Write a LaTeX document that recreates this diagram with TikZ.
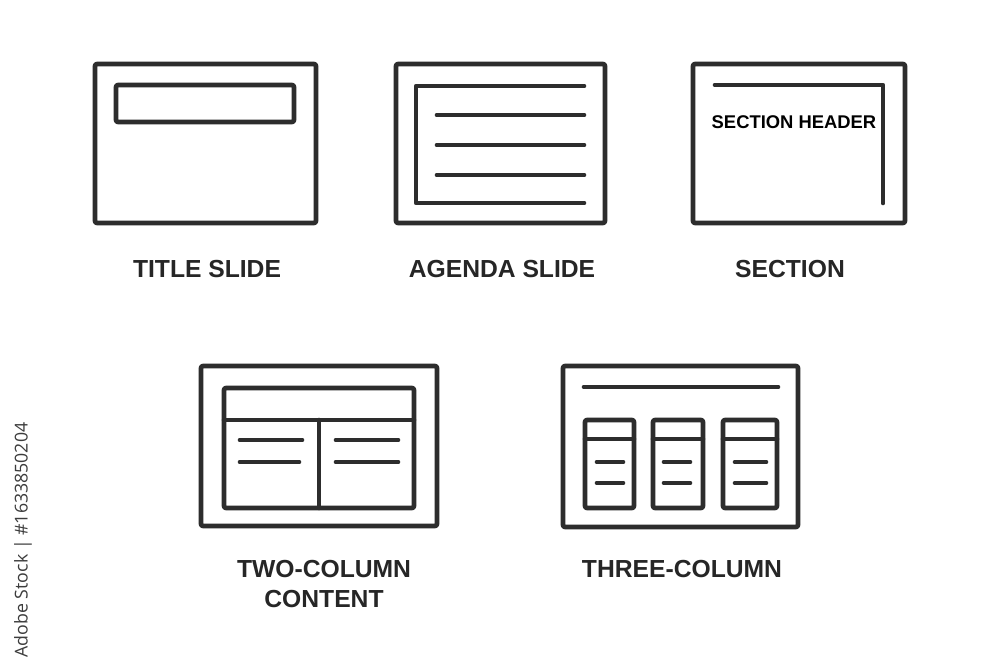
\documentclass[tikz,border=0pt]{standalone}
\usepackage{fontspec}
\setmainfont{Liberation Sans}
\newfontfamily\sidefont{Open Sans}
\definecolor{iconcol}{RGB}{45,45,45}
\definecolor{labcol}{RGB}{38,38,38}
\definecolor{sidecol}{RGB}{60,60,60}
\begin{document}
\begin{tikzpicture}[x=0.75pt,y=-0.75pt,
  frame/.style={draw=iconcol,line width=3.5pt,rounded corners=1.5pt,line join=round},
  bar/.style={draw=iconcol,line width=3.5pt,line cap=round,line join=round},
  lab/.style={text=labcol,font=\fontsize{18.5pt}{22pt}\selectfont\bfseries,anchor=base,inner sep=0pt}]
\useasboundingbox[fill=white] (0,0) rectangle (1000,667);

% ---- Title slide
\draw[frame] (95,64) rectangle (316,223);
\draw[frame] (116,85) rectangle (294,122);
\node[lab] (t1) at (207,277) {TITLE SLIDE};

% ---- Agenda slide
\draw[frame] (396,64) rectangle (605,223);
\draw[bar] (584,86) -- (416,86) -- (416,203) -- (584,203);
\foreach \yy in {115,145,175} \draw[bar] (437,\yy) -- (584,\yy);
\node[lab] (t2) at (502,277) {AGENDA SLIDE};

% ---- Section
\draw[frame] (693,64) rectangle (905,223);
\draw[bar] (715,85) -- (883,85) -- (883,203);
\node[inner sep=0pt,anchor=base,font=\fontsize{13.8pt}{16pt}\selectfont\bfseries] (sh) at (794,128) {SECTION HEADER};
\node[lab] (t3) at (790,277) {SECTION};

% ---- Two-column content
\draw[frame] (201,366) rectangle (437,526);
\draw[frame] (224,388) rectangle (414,508);
\draw[bar] (224,420) -- (414,420);
\draw[bar] (319,420) -- (319,508);
\draw[bar] (240,440) -- (302,440);
\draw[bar] (240,462) -- (299,462);
\draw[bar] (336,440) -- (398,440);
\draw[bar] (336,462) -- (398,462);
\node[lab] (t4) at (324,577) {TWO-COLUMN};
\node[lab] (t5) at (324,607) {CONTENT};

% ---- Three-column
\draw[frame] (563,366) rectangle (798,527);
\draw[bar] (584,387) -- (778,387);
\foreach \xa/\xb/\la/\lb in {585/634/597/623, 653/703/664/690, 723/777/735/766}{
  \draw[frame] (\xa,420) rectangle (\xb,508);
  \draw[bar] (\xa,439) -- (\xb,439);
  \draw[bar] (\la,462) -- (\lb,462);
  \draw[bar] (\la,483) -- (\lb,483);
}
\node[lab] (t6) at (682,577) {THREE-COLUMN};

% ---- side text
\node[rotate=90,text=sidecol,inner sep=0pt,font=\sidefont\fontsize{13.3pt}{15pt}\selectfont] (side) at (23,540) {Adobe Stock | \#1633850204};
\end{tikzpicture}
\end{document}
